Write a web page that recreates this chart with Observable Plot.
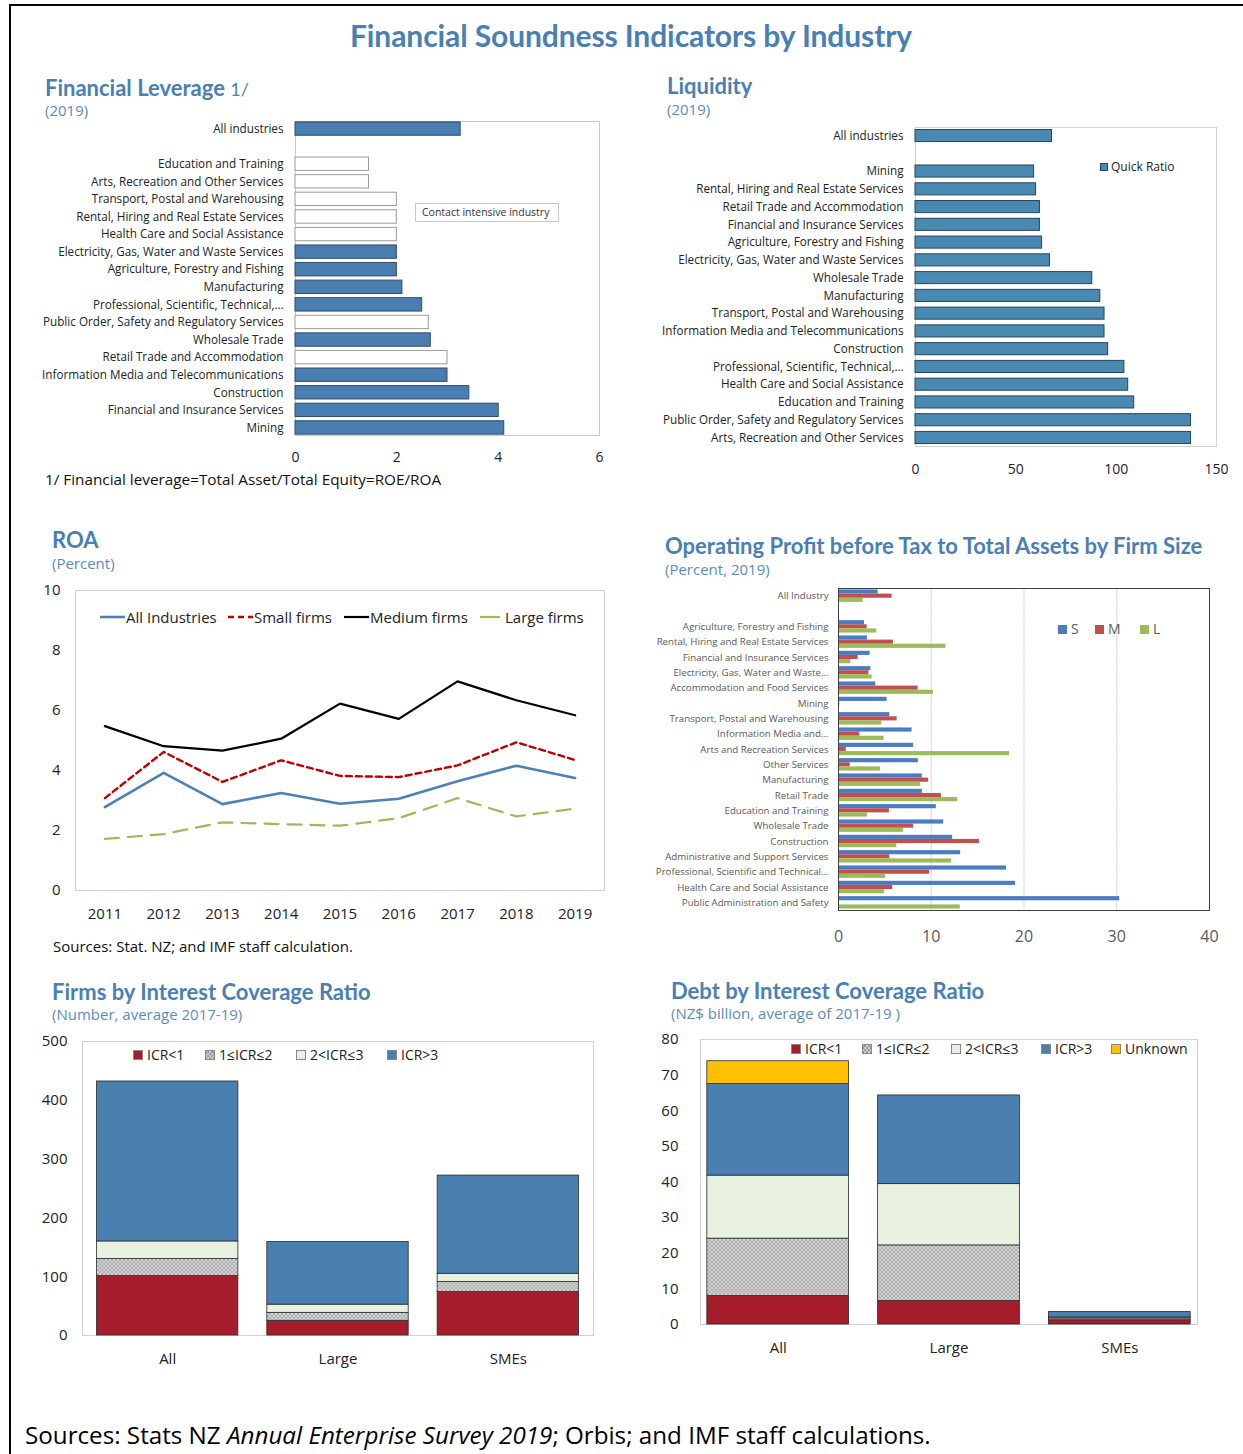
<!DOCTYPE html>
<html>
<head>
<meta charset="utf-8">
<script src="https://cdn.jsdelivr.net/npm/d3@7"></script>
<script src="https://cdn.jsdelivr.net/npm/@observablehq/plot@0.6"></script>
<style>
  body { margin: 0; background: #fff; }
  #page { position: relative; width: 1243px; height: 1454px; overflow: hidden; font-family: "Open Sans", sans-serif; color: #111; }
  #border { position: absolute; left: 9px; top: 4px; right: -4px; bottom: -6px; border-top: 2px solid #000; border-left: 2px solid #000; }
  .chart { position: absolute; }
  .chart svg { overflow: visible; display: block; }
  .t { position: absolute; white-space: nowrap; line-height: 1; }
  .ttl { font-family: "Lato", sans-serif; font-weight: 700; color: #4a7fb5; font-size: 22px; }
  .ttl span { font-weight: 400; font-size: 18px; }
  .sub { color: #5a8cc0; font-size: 15px; }
  .note { color: #111; font-size: 15px; }
  .lg { position: absolute; white-space: nowrap; line-height: 1; display: flex; align-items: center; }
  .sw { display: inline-block; width: 9px; height: 9px; margin-right: 4px; box-sizing: border-box; }
  .hatchsw { background-color: #d0d0d0; background-image: repeating-linear-gradient(45deg, #999 0 1px, transparent 1px 3px), repeating-linear-gradient(-45deg, #999 0 1px, transparent 1px 3px); border: 1px solid #888; }
  #c1 [aria-label^="y-axis"] text, #c2 [aria-label^="y-axis"] text { font-size: 11.7px; fill: #222; }
  #c1 [aria-label^="x-axis"] text, #c2 [aria-label^="x-axis"] text { font-size: 14px; fill: #222; }
  #c3 [aria-label^="x-axis"] text, #c3 [aria-label^="y-axis"] text { font-size: 15px; fill: #222; }
  #c4 [aria-label^="fy-axis"] text { font-size: 9.7px; fill: #595959; }
  #c4 [aria-label^="x-axis"] text { font-size: 16px; fill: #595959; }
  #c5 [aria-label^="x-axis"] text, #c5 [aria-label^="y-axis"] text,
  #c6 [aria-label^="x-axis"] text, #c6 [aria-label^="y-axis"] text { font-size: 15px; fill: #222; }
</style>
</head>
<body>
<svg width="0" height="0" style="position:absolute">
  <defs>
    <pattern id="hatch" width="4" height="4" patternUnits="userSpaceOnUse">
      <rect width="4" height="4" fill="#d2d2d2"></rect>
      <path d="M0,0L4,4M4,0L0,4" stroke="#a0a0a0" stroke-width="0.7"></path>
    </pattern>
  </defs>
</svg>
<div id="page">
  <div id="border"></div>
  <div class="t" style="left:350px;top:20px;font-family:Lato;font-weight:700;font-size:30px;color:#4a7fb5;letter-spacing:-0.1px;">Financial Soundness Indicators by Industry</div>

  <div class="t ttl" style="left:45px;top:77px;">Financial Leverage <span>1/</span></div>
  <div class="t sub" style="left:45px;top:103px;">(2019)</div>
  <div class="t note" style="left:45px;top:472px;font-size:15.3px;">1/ Financial leverage=Total Asset/Total Equity=ROE/ROA</div>

  <div class="t ttl" style="left:667px;top:75px;">Liquidity</div>
  <div class="t sub" style="left:667px;top:102px;">(2019)</div>

  <div class="t ttl" style="left:52px;top:529px;">ROA</div>
  <div class="t sub" style="left:52px;top:556px;">(Percent)</div>
  <div class="t note" style="left:53px;top:939px;">Sources: Stat. NZ; and IMF staff calculation.</div>

  <div class="t ttl" style="left:665px;top:535px;">Operating Profit before Tax to Total Assets by Firm Size</div>
  <div class="t sub" style="left:665px;top:562px;">(Percent, 2019)</div>

  <div class="t ttl" style="left:52px;top:981px;">Firms by Interest Coverage Ratio</div>
  <div class="t sub" style="left:52px;top:1007px;">(Number, average 2017-19)</div>

  <div class="t ttl" style="left:671px;top:980px;">Debt by Interest Coverage Ratio</div>
  <div class="t sub" style="left:671px;top:1006px;">(NZ$ billion, average of 2017-19 )</div>

  <div class="t" style="left:25px;top:1423px;font-size:24.2px;color:#000;">Sources: Stats NZ <i>Annual Enterprise Survey 2019</i>; Orbis; and IMF staff calculations.</div>

  <div class="chart" id="c1" style="left:30px;top:110px;"></div>
  <div class="chart" id="c2" style="left:650px;top:115px;"></div>
  <div class="chart" id="c3" style="left:30px;top:580px;"></div>
  <div class="chart" id="c4" style="left:640px;top:580px;"></div>
  <div class="chart" id="c5" style="left:30px;top:1030px;"></div>
  <div class="chart" id="c6" style="left:650px;top:1028px;"></div>

  <div id="legends"></div>
</div>
<script>
// ---------------- DATA ----------------
const levCategories = ["All industries","Education and Training","Arts, Recreation and Other Services","Transport, Postal and Warehousing","Rental, Hiring and Real Estate Services","Health Care and Social Assistance","Electricity, Gas, Water and Waste Services","Agriculture, Forestry and Fishing","Manufacturing","Professional, Scientific, Technical,…","Public Order, Safety and Regulatory Services","Wholesale Trade","Retail Trade and Accommodation","Information Media and Telecommunications","Construction","Financial and Insurance Services","Mining"];
const levValues = [3.26,1.45,1.45,2.0,2.0,2.0,2.0,2.0,2.11,2.5,2.63,2.67,3.0,3.0,3.43,4.01,4.12];
const levContactIntensive = [false,true,true,true,true,true,false,false,false,false,true,false,true,false,false,false,false];
const levTicks = [0,2,4,6];

const liqCategories = ["All industries","Mining","Rental, Hiring and Real Estate Services","Retail Trade and Accommodation","Financial and Insurance Services","Agriculture, Forestry and Fishing","Electricity, Gas, Water and Waste Services","Wholesale Trade","Manufacturing","Transport, Postal and Warehousing","Information Media and Telecommunications","Construction","Professional, Scientific, Technical,…","Health Care and Social Assistance","Education and Training","Public Order, Safety and Regulatory Services","Arts, Recreation and Other Services"];
const liqQuickRatio = [68.0,59.1,60.1,62.0,62.0,63.1,67.0,88.1,92.1,94.2,94.2,96.0,104.1,106.0,109.0,137.3,137.3];
const liqTicks = [0,50,100,150];

const roaYears = ["2011","2012","2013","2014","2015","2016","2017","2018","2019"];
const roaAllIndustries = [2.78,3.92,2.88,3.25,2.89,3.06,3.64,4.16,3.75];
const roaSmallFirms = [3.08,4.62,3.62,4.34,3.82,3.78,4.17,4.94,4.35];
const roaMediumFirms = [5.48,4.81,4.66,5.06,6.23,5.72,6.97,6.34,5.84];
const roaLargeFirms = [1.72,1.88,2.27,2.21,2.16,2.41,3.08,2.47,2.73];
const roaTicks = [0,2,4,6,8,10];

const opCategories = ["All Industry","Agriculture, Forestry and Fishing","Rental, Hiring and Real Estate Services","Financial and Insurance Services","Electricity, Gas, Water and Waste…","Accommodation and Food Services","Mining","Transport, Postal and Warehousing","Information Media and…","Arts and Recreation Services","Other Services","Manufacturing","Retail Trade","Education and Training","Wholesale Trade","Construction","Administrative and Support Services","Professional, Scientific and Technical…","Health Care and Social Assistance","Public Administration and Safety"];
const opSizes = ["S","M","L"];
const opSmall = [4.27,2.80,3.12,3.41,3.48,4.02,5.24,5.53,7.93,8.11,8.61,9.04,9.04,10.55,11.34,12.31,13.17,18.12,19.09,30.32];
const opMedium = [5.78,3.09,5.92,2.12,3.27,8.58,0.14,6.32,2.30,0.83,1.26,9.72,11.09,5.49,8.11,15.21,5.53,9.83,5.85,0];
const opLarge = [2.66,4.13,11.59,1.33,3.62,10.23,0,4.66,4.92,18.44,4.52,8.86,12.85,3.12,7.00,6.28,12.20,5.06,4.95,13.13];
const opTicks = [0,10,20,30,40];
const opGrid = [10,20,30];

const icrGroups = ["All","Large","SMEs"];
const firmBands = ["ICR<1","1≤ICR≤2","2<ICR≤3","ICR>3"];
const firmsIcrLt1 = [101,25,74];
const firmsIcr1to2 = [29,13.5,17];
const firmsIcr2to3 = [30,14,14];
const firmsIcrGt3 = [272,106.5,167];
const firmsTicks = [0,100,200,300,400,500];

const debtBands = ["ICR<1","1≤ICR≤2","2<ICR≤3","ICR>3","Unknown"];
const debtIcrLt1 = [8.0,6.6,1.2];
const debtIcr1to2 = [16.1,15.6,0.5];
const debtIcr2to3 = [17.7,17.2,0.3];
const debtIcrGt3 = [25.7,24.9,1.5];
const debtUnknown = [6.4,0,0];
const debtTicks = [0,10,20,30,40,50,60,70,80];

// ---------------- STYLES ----------------
const BLANK = " ";
const levBlue = "#4a7eb1";
const liqBlue = "#4a89b1";
const roaColors = {all: "#4a82b8", small: "#c00000", medium: "#000000", large: "#9bbb59"};
const opColors = ["#4a7cc4", "#c0504d", "#9bbb59"];
const icrColors = ["#a51c2b", "url(#hatch)", "#e8f1df", "#4a80b0", "#ffc000"];
const baseStyle = {fontFamily: "Open Sans, sans-serif", fontSize: "12px", color: "#222", background: "transparent", overflow: "visible"};
const esc = s => s.replace(/&/g, "&amp;").replace(/</g, "&lt;").replace(/>/g, "&gt;");
const plain = d => String(d);

// ---------------- 1. Financial leverage ----------------
const levRows = levCategories.map((c, i) => ({cat: c, value: levValues[i], contact: levContactIntensive[i]}));
const levDomain = [levCategories[0], BLANK, ...levCategories.slice(1)];
document.getElementById("c1").append(Plot.plot({
  width: 580, height: 365, marginLeft: 265, marginRight: 11, marginTop: 11, marginBottom: 40,
  style: baseStyle,
  x: {domain: [0, 6], ticks: levTicks, tickFormat: plain, tickSize: 0, tickPadding: 17, label: null},
  y: {domain: levDomain, paddingInner: 0.24, paddingOuter: 0.05, round: false, tickSize: 0, tickPadding: 12, label: null},
  marks: [
    Plot.frame({stroke: "#c8c8c8"}),
    Plot.barX(levRows, {x: "value", y: "cat", fill: d => d.contact ? "#ffffff" : levBlue, stroke: d => d.contact ? "#9a9a9a" : "#2c4c6c", strokeWidth: 1})
  ]
}));

// ---------------- 2. Liquidity ----------------
const liqRows = liqCategories.map((c, i) => ({cat: c, value: liqQuickRatio[i]}));
const liqDomain = [liqCategories[0], BLANK, ...liqCategories.slice(1)];
document.getElementById("c2").append(Plot.plot({
  width: 580, height: 370, marginLeft: 265, marginRight: 14, marginTop: 12, marginBottom: 39,
  style: baseStyle,
  x: {domain: [0, 150], ticks: liqTicks, tickFormat: plain, tickSize: 0, tickPadding: 18, label: null},
  y: {domain: liqDomain, paddingInner: 0.32, paddingOuter: 0.14, round: false, tickSize: 0, tickPadding: 12, label: null},
  marks: [
    Plot.frame({stroke: "#d0d0d0"}),
    Plot.barX(liqRows, {x: "value", y: "cat", fill: liqBlue, stroke: "#24465e", strokeWidth: 1})
  ]
}));

// ---------------- 3. ROA ----------------
const roaSeries = [
  {key: "all", values: roaAllIndustries, width: 2.6, dash: null},
  {key: "small", values: roaSmallFirms, width: 2.4, dash: "6,4"},
  {key: "medium", values: roaMediumFirms, width: 2.2, dash: null},
  {key: "large", values: roaLargeFirms, width: 2.2, dash: "14,9"}
];
document.getElementById("c3").append(Plot.plot({
  width: 590, height: 350, marginLeft: 45, marginRight: 16, marginTop: 10, marginBottom: 40,
  style: baseStyle,
  x: {type: "point", domain: roaYears, padding: 0.5, round: false, tickSize: 0, tickPadding: 18, label: null},
  y: {domain: [0, 10], ticks: roaTicks, tickFormat: plain, tickSize: 0, tickPadding: 15, label: null},
  marks: [
    Plot.frame({stroke: "#d0d0d0"}),
    ...roaSeries.map(s => Plot.line(roaYears.map((y, i) => ({year: y, value: s.values[i]})), {
      x: "year", y: "value", stroke: roaColors[s.key], strokeWidth: s.width, strokeDasharray: s.dash
    }))
  ]
}));

// ---------------- 4. Operating profit ----------------
const opRows = [];
opCategories.forEach((c, i) => {
  opRows.push({cat: c, size: "S", value: opSmall[i]});
  opRows.push({cat: c, size: "M", value: opMedium[i]});
  opRows.push({cat: c, size: "L", value: opLarge[i]});
});
opRows.push({cat: BLANK, size: "S", value: 0});
const opDomain = [opCategories[0], BLANK, ...opCategories.slice(1)];
document.getElementById("c4").append(Plot.plot({
  width: 590, height: 370, marginLeft: 198, marginRight: 21, marginTop: 8, marginBottom: 40,
  style: baseStyle,
  x: {domain: [0, 40], ticks: opTicks, tickFormat: plain, tickSize: 0, tickPadding: 20, label: null},
  fy: {domain: opDomain, padding: 0, round: false, axis: "left", tickSize: 0, tickPadding: 10, label: null},
  y: {domain: opSizes, axis: null, paddingInner: 0, paddingOuter: 0.35, round: false},
  color: {domain: opSizes, range: opColors},
  marks: [
    Plot.ruleX(opGrid, {stroke: "#d9d9d9"}),
    Plot.barX(opRows, {x: "value", y: "size", fy: "cat", fill: "size"}),
    Plot.frame({facet: "super", stroke: "#404040"})
  ]
}));

// ---------------- 5 & 6. ICR ----------------
function stackRows(bands, series) {
  const rows = [];
  bands.forEach((b, j) => icrGroups.forEach((g, i) => rows.push({group: g, band: b, value: series[j][i]})));
  return rows;
}
function icrPlot(rows, bands, yMax, ticks, dims) {
  const {xInner, xOuter, yPad, ...size} = dims;
  return Plot.plot({
    ...size,
    style: baseStyle,
    x: {domain: icrGroups, paddingInner: xInner, paddingOuter: xOuter, round: false, tickSize: 0, tickPadding: 18, label: null},
    y: {domain: [0, yMax], ticks, tickFormat: plain, tickSize: 0, tickPadding: yPad, label: null},
    color: {domain: bands, range: icrColors.slice(0, bands.length)},
    marks: [
      Plot.frame({stroke: "#d0d0d0"}),
      Plot.barY(rows, {x: "group", y: "value", fill: "band", stroke: "#2a2a2a", strokeWidth: 0.8})
    ]
  });
}
document.getElementById("c5").append(icrPlot(
  stackRows(firmBands, [firmsIcrLt1, firmsIcr1to2, firmsIcr2to3, firmsIcrGt3]), firmBands, 500, firmsTicks,
  {width: 580, height: 345, marginLeft: 52, marginRight: 17, marginTop: 11, marginBottom: 40, yPad: 15, xInner: 0.17, xOuter: 0.085}
));
document.getElementById("c6").append(icrPlot(
  stackRows(debtBands, [debtIcrLt1, debtIcr1to2, debtIcr2to3, debtIcrGt3, debtUnknown]), debtBands, 80, debtTicks,
  {width: 560, height: 340, marginLeft: 50, marginRight: 13, marginTop: 11, marginBottom: 44, yPad: 22, xInner: 0.17, xOuter: 0.04}
));

// ---------------- Legends (HTML) ----------------
const L = document.getElementById("legends");
function addLegend(x, y, html, style = "") {
  const d = document.createElement("div");
  d.className = "lg";
  d.style.cssText = `left:${x}px;top:${y}px;${style}`;
  d.innerHTML = html;
  L.append(d);
}
function swatch(color, extra = "") {
  if (color.startsWith("url")) return `<span class="sw hatchsw" style="${extra}"></span>`;
  return `<span class="sw" style="background:${color};${extra}"></span>`;
}
// contact intensive box
addLegend(415, 203, `<span style="font-size:10.5px;color:#333;">Contact intensive industry</span>`,
  "width:144px;height:19px;box-sizing:border-box;border:1px solid #c8c8c8;padding-left:6px;background:#fff;");
// quick ratio
addLegend(1100, 161, `${swatch(liqBlue, "border:1px solid #24465e;width:8px;height:8px;margin-right:3px")}<span style="font-size:12px;color:#222">Quick Ratio</span>`);
// ROA
const roaLegend = [["All Industries", "all", 100, 25, null, 2.6], ["Small firms", "small", 228, 25, "6,4", 2.4], ["Medium firms", "medium", 344, 25, null, 2.2], ["Large firms", "large", 480, 20, null, 2.2]];
roaLegend.forEach(([label, key, x, w, dash, sw]) => {
  addLegend(x, 608, `<svg width="${w}" height="18" style="margin-right:${key==='large'?5:1}px"><line x1="0" x2="${w}" y1="9" y2="9" stroke="${roaColors[key]}" stroke-width="${sw}" ${dash ? `stroke-dasharray="${dash}"` : ""}></line></svg><span style="font-size:15px;color:#222">${esc(label)}</span>`);
});
// Op profit S M L
[["S", 0, 1058], ["M", 1, 1095], ["L", 2, 1140]].forEach(([lab, i, x]) => {
  addLegend(x, 622, `${swatch(opColors[i], "width:9px;height:9px;margin-right:4px")}<span style="font-size:14px;color:#595959">${lab}</span>`);
});
// Firms ICR
[[133, 0], [205, 1], [296, 2], [387, 3]].forEach(([x, i]) => {
  addLegend(x, 1048, `${swatch(icrColors[i], "width:10px;height:10px;border:1px solid #888")}<span style="font-size:14px;color:#222">${esc(firmBands[i])}</span>`);
});
// Debt ICR
[[791, 0], [862, 1], [951, 2], [1041, 3], [1111, 4]].forEach(([x, i]) => {
  addLegend(x, 1042, `${swatch(icrColors[i], "width:10px;height:10px;border:1px solid #888")}<span style="font-size:14px;color:#222">${esc(debtBands[i])}</span>`);
});
</script>
</body>
</html>
